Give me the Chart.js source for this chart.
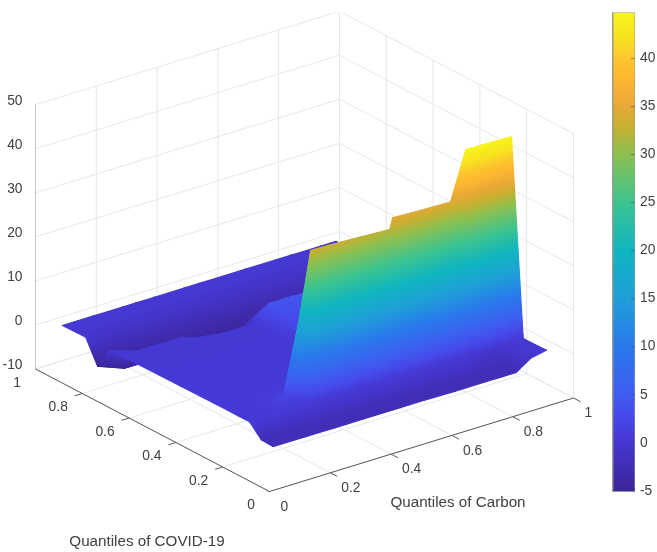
<!DOCTYPE html>
<html>
<head>
<meta charset="utf-8">
<script src="https://cdn.jsdelivr.net/npm/chart.js@4"></script>
<style>html,body{margin:0;padding:0;background:#fff}canvas{display:block}</style>
</head>
<body>
<canvas id="c" width="657" height="552"></canvas>
<script>
// ---- data ----
const carbonQ = [.05,.1,.15,.2,.25,.29,.35,.45,.5,.55,.56,.65,.75,.8,.85,.9,.95];
const covidQ  = [.05,.1,.15,.2,.25,.45,.65,.7,.75,.8,.85,.9,.95];
const zY05 = [-2.25,-2.25,-2.3,-2.3,-2.3,-2.3,-2.3,-2.3,-2.3,-2.3,-2.3,-2.4,-2.4,-2.4,-2.4,-.1,.5];
const zY10 = [-2.1,-2.1,-2.2,-2.2,-2.2,-2.2,-2.2,-2.2,-2.2,-2.2,-2.2,-2.3,-2.3,-2.3,-2.3,0,.4];
const zY15 = [.6,.6,.6,.6,.6,.6,.6,.6,.6,.6,.6,.6,.6,-.5,-1,.2,.4];
const zY20 = [.6,.6,.8,1.8,17.4,33,32.9,32.6,32.4,32.2,34.7,34.4,34.2,45,45,44.9,44.8];
const zY25 = [.6,.6,.6,.6,.6,.6,.6,.6,.6,.6,.6,.6,.6,.6,.6,.6,.6];
const zY45 = [.5,.5,.5,.5,.5,.5,.5,.5,1.5,1.5,1.5,1.5,1,1,.5,.5,.5];
const zY65 = [.4,.4,.4,.4,.4,.4,.4,.4,4,4,4,3.8,3,2.5,2,1,.5];
const zY70 = [0,.26,.2,.2,.2,-.8,-1.7,-1.8,-1.8,-1,-1,-1,-1,-1,-1,-1,-1];
const zY75 = [0,-5,-5,-5,-5,-5,-5,-5,-5,-5,-5,-5,-5,-5,-5,-5,-5];
const zY80 = [-4.85,-4.5,-4,-3.5,-3.5,-3.5,-3.5,-3.5,-3.5,-3.5,-3.5,-3.5,-3.5,-3.5,-3.5,-3.5,-3.5];
const zY85 = [.3,-1,-1.2,-1.2,-1.2,-1.2,-1.2,-1.2,-1.2,-1.2,-1.2,-1.2,-1.2,-1.2,-1.2,-1.2,-1.2];
const zY90 = [.3,.3,.3,.3,.3,.3,.3,.3,.3,.3,.3,.3,.3,.3,.3,.3,.3];
const zY95 = [.2,.2,.2,.2,.2,.2,.2,.2,.2,.2,.2,.2,.2,.2,.2,.2,.2];
const zRows = [zY05,zY10,zY15,zY20,zY25,zY45,zY65,zY70,zY75,zY80,zY85,zY90,zY95];
const axisTicks = [0,.2,.4,.6,.8,1];
const zTicks = [-10,0,10,20,30,40,50];
const barTicks = [-5,0,5,10,15,20,25,30,35,40];
const barMin = -5.1, barMax = 44.8;
const colorZ = [-5.1,0,2.5,5,10,15,20,25,30,33,35,38,40,42,44.8];
const colorHex = ['#3c2499','#4536d0','#4747e8','#3f5cf0','#2a78ec','#1f9fd8','#10b5c0','#3cc490','#8cc050','#c8b030','#e8a838','#fdb730','#fcc62e','#f8e020','#f7f41c'];
const xTitle = 'Quantiles of Carbon', yTitle = 'Quantiles of COVID-19';

// ---- view: oblique projection of the 3D box on the chart's two scales ----
const PX = {x:304, y:234}, RISE = {x:93.5, y:122.5}, ZPX = 4.405;
function project(X, Y, z){
  return { x: PX.x*X - PX.y*(Y-1), y: z + (RISE.x*X + RISE.y*(Y-1))/ZPX };
}
function seg(a, b, color, width){
  return {type:'line', data:[a,b], borderColor:color, borderWidth:width, pointRadius:0, fill:false, tension:0};
}
function hexAt(z){
  const t = Math.max(colorZ[0], Math.min(colorZ[colorZ.length-1], z));
  let i = 0; while(i < colorZ.length-2 && t > colorZ[i+1]) i++;
  const f = (t-colorZ[i])/(colorZ[i+1]-colorZ[i]);
  const p = h => [1,3,5].map(k=>parseInt(h.substr(k,2),16));
  const A = p(colorHex[i]), B = p(colorHex[i+1]);
  return 'rgb('+A.map((v,k)=>Math.round(v+(B[k]-v)*f)).join(',')+')';
}
function triPaint(tri){
  const flat = hexAt((tri[0].z+tri[1].z+tri[2].z)/3);
  const lo = Math.min(tri[0].z,tri[1].z,tri[2].z), hi = Math.max(tri[0].z,tri[1].z,tri[2].z);
  return function(ctx){
    const chart = ctx.chart, sx = chart.scales.x, sy = chart.scales.y;
    if(!sx || !sy || hi-lo<1e-6) return flat;
    const P = tri.map(p=>({x:sx.getPixelForValue(p.x), y:sy.getPixelForValue(p.y), z:p.z}));
    const ux=P[1].x-P[0].x, uy=P[1].y-P[0].y, vx=P[2].x-P[0].x, vy=P[2].y-P[0].y;
    const uz=P[1].z-P[0].z, vz=P[2].z-P[0].z, det=ux*vy-uy*vx;
    if(!isFinite(det) || Math.abs(det)<1e-3) return flat;
    const a=(uz*vy-vz*uy)/det, b=(ux*vz-vx*uz)/det, n=a*a+b*b;
    if(!isFinite(n) || n<1e-9) return flat;
    const at=z=>({x:P[0].x+a*(z-P[0].z)/n, y:P[0].y+b*(z-P[0].z)/n});
    const s=at(lo), e=at(hi);
    if(![s.x,s.y,e.x,e.y].every(isFinite)) return flat;
    const g=chart.ctx.createLinearGradient(s.x,s.y,e.x,e.y);
    g.addColorStop(0,hexAt(lo));
    colorZ.forEach((z,i)=>{ if(z>lo && z<hi) g.addColorStop((z-lo)/(hi-lo),colorHex[i]); });
    g.addColorStop(1,hexAt(hi));
    return g;
  };
}

const datasets = [];
// grid on the floor and two back walls
const GRID = '#e7e7ea';
axisTicks.forEach(t=>{
  datasets.push(seg(project(t,0,-10),project(t,1,-10),GRID,1));
  datasets.push(seg(project(0,t,-10),project(1,t,-10),GRID,1));
  datasets.push(seg(project(t,1,-10),project(t,1,50),GRID,1));
  datasets.push(seg(project(1,t,-10),project(1,t,50),GRID,1));
});
zTicks.forEach(z=>{
  datasets.push(seg(project(0,1,z),project(1,1,z),GRID,1));
  datasets.push(seg(project(1,1,z),project(1,0,z),GRID,1));
});
// surface, far to near
for(let j=covidQ.length-2;j>=0;j--){
  for(let i=carbonQ.length-2;i>=0;i--){
    const v=(a,b)=>{const p=project(carbonQ[a],covidQ[b],zRows[b][a]);return {x:p.x,y:p.y,z:zRows[b][a]};};
    const q00=v(i,j),q10=v(i+1,j),q01=v(i,j+1),q11=v(i+1,j+1);
    // the row behind the rim folds along the other diagonal
    const tris = covidQ[j]===.2 ? [[q00,q11,q01],[q00,q10,q11]] : [[q10,q11,q01],[q00,q10,q01]];
    tris.forEach(tri=>{
      const paint=triPaint(tri);
      datasets.push({type:'line',data:[tri[0],tri[1],tri[2],tri[0]],backgroundColor:paint,borderColor:paint,
        borderWidth:1.2,borderJoinStyle:'round',pointRadius:0,fill:'shape',tension:0});
    });
  }
}
// axes and ticks
const AXIS='#5a5a5a', ZAXIS='#9a9a9a';
datasets.push(seg(project(0,0,-10),project(1,0,-10),AXIS,1));
datasets.push(seg(project(0,0,-10),project(0,1,-10),AXIS,1));
datasets.push(seg(project(0,1,-10),project(0,1,50),ZAXIS,1));
axisTicks.forEach(t=>{
  datasets.push(seg(project(t,0,-10),project(t,-.03,-10),AXIS,1));
  datasets.push(seg(project(0,t,-10),project(-.025,t,-10),AXIS,1));
});
zTicks.forEach(z=>datasets.push(seg(project(0,1,z),project(0,1.03,z),ZAXIS,1)));
// colour bar, on its own value axis
const BARL=577.2, BARR=599.5;
datasets.push({type:'line',yAxisID:'y2',data:[{x:BARL,y:barMin},{x:BARR,y:barMin},{x:BARR,y:barMax},{x:BARL,y:barMax},{x:BARL,y:barMin}],
  borderColor:'#9b9b8f',borderWidth:1,pointRadius:0,tension:0,fill:'shape',
  backgroundColor:function(ctx){
    const s=ctx.chart.scales.y2; if(!s) return colorHex[0];
    const y0=s.getPixelForValue(barMin), y1=s.getPixelForValue(barMax);
    if(!isFinite(y0)||!isFinite(y1)) return colorHex[0];
    const g=ctx.chart.ctx.createLinearGradient(0,y0,0,y1);
    colorZ.forEach((z,i)=>g.addColorStop((z-barMin)/(barMax-barMin),colorHex[i]));
    return g;
  }});
barTicks.forEach(v=>datasets.push({type:'line',yAxisID:'y2',data:[{x:BARR-4,y:v},{x:BARR,y:v}],
  borderColor:'rgba(70,70,90,.55)',borderWidth:1,pointRadius:0,fill:false}));

// first dataset is painted last by Chart.js
datasets.reverse();

const FONT='"Liberation Sans", Arial, sans-serif', INK='#404040';
const textPlugin={id:'boxText',afterDraw(chart){
  const c=chart.ctx,sx=chart.scales.x,sy=chart.scales.y;
  const px=p=>({x:sx.getPixelForValue(p.x),y:sy.getPixelForValue(p.y)});
  c.save();c.fillStyle=INK;c.font='13.8px '+FONT;c.textBaseline='middle';
  axisTicks.forEach(t=>{
    const a=px(project(t,0,-10));c.textAlign='left';c.fillText(String(t),a.x+11,a.y+15.5);
    const b=px(project(0,t,-10));c.textAlign='right';c.fillText(String(t),b.x-14.5,b.y+14);
  });
  c.font='15.2px '+FONT;
  c.textAlign='center';
  c.fillText(yTitle,147,542);
  c.fillText(xTitle,458,503);
  c.restore();
}};
const noPad=s=>{s.paddingTop=0;s.paddingBottom=0;};

new Chart(document.getElementById('c'),{
  type:'line',
  data:{datasets},
  plugins:[textPlugin],
  options:{
    responsive:false,animation:false,
    parsing:{xAxisKey:'x',yAxisKey:'y'},
    layout:{padding:{top:12.5,bottom:60.3,left:0,right:0}},
    plugins:{legend:{display:false},tooltip:{enabled:false},title:{display:false}},
    scales:{
      x:{type:'linear',display:false,min:0,max:599.5},
      y:{type:'linear',position:'left',min:-10-(491.7-369)/4.405,max:-10+(369-12.5)/4.405,
        grid:{display:false,drawTicks:false},border:{display:false},
        afterBuildTicks:s=>{s.ticks=zTicks.map(v=>({value:v}));},
        afterFit:s=>{s.width=35.5;noPad(s);},
        ticks:{padding:13,color:INK,font:{family:FONT,size:13.8},autoSkip:false,labelOffset:-4,callback:v=>String(v)}},
      y2:{type:'linear',position:'right',min:barMin,max:barMax,
        grid:{display:false,drawTicks:false},border:{display:false},
        afterBuildTicks:s=>{s.ticks=barTicks.map(v=>({value:v}));},
        afterFit:s=>{s.width=22;noPad(s);},
        ticks:{padding:5,color:INK,font:{family:FONT,size:13.8},autoSkip:false,callback:v=>String(v)}}
    }
  }
});
</script>
</body>
</html>
